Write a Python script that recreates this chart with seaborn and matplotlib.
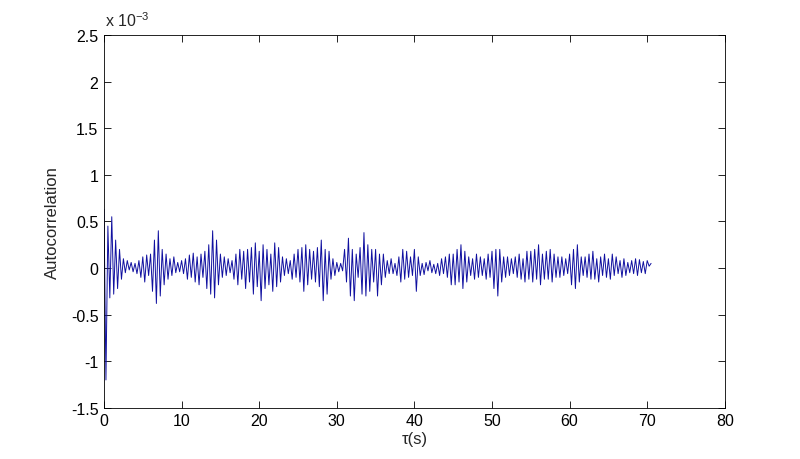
import numpy as np
import pandas as pd
import matplotlib
matplotlib.use("Agg")
import matplotlib.pyplot as plt
import seaborn as sns

dt = 0.25
autocorr = [
    0.63, -1.20, 0.45, -0.32,   0.55, -0.28, 0.30, -0.22,   0.20, -0.12, 0.10, -0.05,
    0.08, -0.02, 0.06, -0.04,   0.05, -0.06, 0.08, -0.10,   0.12, -0.15, 0.14, -0.08,
    0.15, -0.25, 0.30, -0.38,   0.40, -0.30, 0.20, -0.18,   0.15, -0.12, 0.10, -0.08,
    0.12, -0.05, 0.06, -0.04,   0.08, -0.06, 0.10, -0.12,   0.14, -0.10, 0.16, -0.15,
    0.12, -0.18, 0.15, -0.10,   0.18, -0.22, 0.25, -0.28,   0.40, -0.32, 0.30, -0.18,
    0.15, -0.10, 0.12, -0.08,   0.10, -0.05, 0.08, -0.12,   0.15, -0.18, 0.20, -0.12,
    0.18, -0.22, 0.20, -0.15,   0.22, -0.28, 0.27, -0.20,   0.18, -0.35, 0.25, -0.22,
    0.20, -0.18, 0.15, -0.25,   0.27, -0.20, 0.22, -0.15,   0.12, -0.08, 0.10, -0.06,
    0.08, -0.12, 0.15, -0.10,   0.20, -0.15, 0.22, -0.25,   0.25, -0.18, 0.20, -0.12,
    0.18, -0.15, 0.22, -0.20,   0.30, -0.35, 0.20, -0.28,   0.18, -0.12, 0.10, -0.08,
    0.06, -0.04, 0.05, -0.03,   0.20, -0.15, 0.32, -0.30,   0.20, -0.35, 0.15, -0.10,
    0.22, -0.28, 0.38, -0.30,   0.25, -0.25, 0.20, -0.15,   0.20, -0.30, 0.15, -0.18,
    0.15, -0.10, 0.08, -0.06,   0.10, -0.06, 0.05, -0.08,   0.12, -0.15, 0.20, -0.12,
    0.18, -0.10, 0.12, -0.08,   0.20, -0.25, 0.12, -0.08,   0.05, -0.07, 0.06, -0.03,
    0.08, -0.05, 0.04, -0.06,   0.05, -0.08, 0.10, -0.06,   0.12, -0.10, 0.15, -0.18,
    0.15, -0.18, 0.20, -0.15,   0.25, -0.22, 0.18, -0.15,   0.12, -0.08, 0.10, -0.12,
    0.15, -0.10, 0.12, -0.08,   0.10, -0.12, 0.15, -0.10,   0.18, -0.22, 0.20, -0.30,
    0.20, -0.15, 0.12, -0.10,   0.12, -0.08, 0.10, -0.06,   0.12, -0.10, 0.15, -0.12,
    0.10, -0.15, 0.18, -0.12,   0.18, -0.15, 0.20, -0.12,   0.25, -0.18, 0.15, -0.12,
    0.18, -0.12, 0.20, -0.15,   0.15, -0.10, 0.12, -0.10,   0.12, -0.08, 0.10, -0.06,
    0.15, -0.18, 0.20, -0.22,   0.25, -0.15, 0.12, -0.08,   0.12, -0.10, 0.15, -0.12,
    0.18, -0.12, 0.10, -0.15,   0.12, -0.08, 0.15, -0.10,   0.10, -0.12, 0.15, -0.08,
    0.12, -0.06, 0.08, -0.10,   0.10, -0.08, 0.06, -0.05,   0.08, -0.06, 0.10, -0.08,
    0.09, -0.05, 0.07, -0.06,   0.08, 0.02, 0.05,
]
tau = np.arange(len(autocorr)) * dt

x_ticks = [0, 10, 20, 30, 40, 50, 60, 70, 80]
y_ticks = [-1.5, -1, -0.5, 0, 0.5, 1, 1.5, 2, 2.5]
y_tick_labels = ["-1.5", "-1", "-0.5", "0", "0.5", "1", "1.5", "2", "2.5"]

df = pd.DataFrame({"tau": tau, "ac": autocorr})

sns.set_style("white")
plt.rcParams["font.family"] = ["Liberation Sans", "DejaVu Sans"]
plt.rcParams["mathtext.fontset"] = "custom"
plt.rcParams["mathtext.rm"] = "Liberation Sans"

fig = plt.figure(figsize=(8, 4.6), dpi=100)
ax = fig.add_axes([0.13, 0.111, 0.776, 0.811])

sns.lineplot(data=df, x="tau", y="ac", ax=ax, estimator=None, color="#1010a0",
             linewidth=0.7)

ax.set_xlim(0, 80)
ax.set_ylim(-1.5, 2.5)
ax.set_xticks(x_ticks)
ax.set_xticklabels([str(v) for v in x_ticks])
ax.set_yticks(y_ticks)
ax.set_yticklabels(y_tick_labels)
ax.tick_params(direction="in", length=5, width=0.6, labelsize=11.5, colors="black",
               top=True, right=True, bottom=True, left=True, pad=4)
for s in ax.spines.values():
    s.set_visible(True)
    s.set_color("black")
    s.set_linewidth(0.6)

ax.set_xlabel("τ(s)", fontsize=12, labelpad=2)
ax.set_ylabel("Autocorrelation", fontsize=12, labelpad=8)

fig.text(0.131, 0.935, r"x 10$^{\mathregular{-3}}$", fontsize=11.5, ha="left", va="bottom")

fig.savefig("out.png", dpi=100)
